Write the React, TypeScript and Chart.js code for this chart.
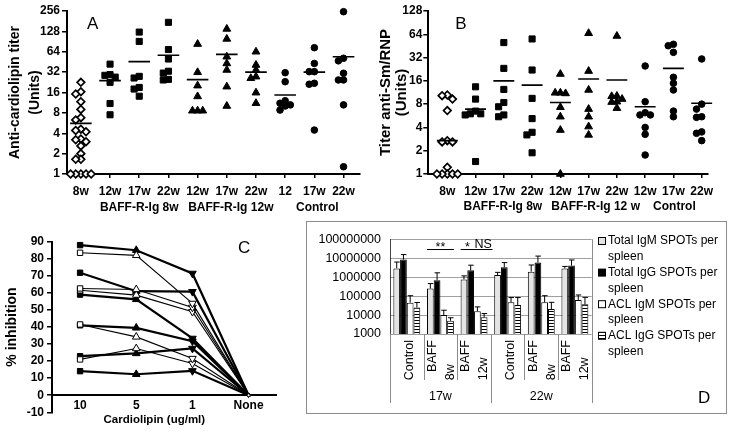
import React, { useEffect, useRef } from 'react';
import { Chart, registerables } from 'chart.js';

Chart.register(...registerables);

const FONT = "'Liberation Sans', Arial, Helvetica, sans-serif";
Chart.defaults.font.family = FONT;
Chart.defaults.color = '#000';

// ===== Panel A: anti-cardiolipin titer =====
const catsA = ['8w', '12w', '17w', '22w', '12w', '17w', '22w', '12', '17w', '22w'];
const groupsA = ['BAFF-R-Ig 8w', 'BAFF-R-Ig 12w', 'Control'];
const ticksA = [1, 2, 4, 8, 16, 32, 64, 128, 256];
const markersA = ['diamond', 'square', 'square', 'square', 'triangle', 'triangle', 'triangle', 'circle', 'circle', 'circle'];
const aPre8w = [22.6, 16.4, 15.2, 11.7, 9.0, 6.8, 6.3, 4.6, 4.4, 4.2, 3.3, 3.2, 3.0, 2.6, 2.0, 1.65, 1.65, 1, 1, 1, 1, 1];
const aB8_12w = [42, 29.4, 28.7, 27, 22.6, 11, 7.5];
const aB8_17w = [125, 91, 27.7, 26.2, 19, 18, 14.1];
const aB8_22w = [174, 69, 50, 33, 31, 25, 24.5];
const aB12_12w = [83, 31.8, 20.2, 14, 8.6, 8.6, 8.6];
const aB12_17w = [139, 99, 54, 43, 34.4, 19.5, 10.1];
const aB12_22w = [64, 40.8, 34.4, 27.4, 26, 15.9, 11.1];
const aCtl_12 = [31.4, 23.1, 12.1, 11.1, 10.5, 10.1, 8.8];
const aCtl_17w = [73.5, 43, 32.5, 32.5, 21.9, 21.2, 4.46];
const aCtl_22w = [250, 51.3, 47, 30.8, 24.5, 24.5, 10.5, 1.28];
const meansA = [5.6, 24, 45.8, 56.8, 24.8, 58.6, 32, 14.7, 32, 54];

// ===== Panel B: anti-Sm/RNP titer =====
const catsB = ['8w', '12w', '17w', '22w', '12w', '17w', '22w', '12w', '17w', '22w'];
const groupsB = ['BAFF-R-Ig 8w', 'BAFF-R-Ig 12 w', 'Control'];
const ticksB = [1, 2, 4, 8, 16, 32, 64, 128];
const markersB = markersA;
const bPre8w = [10.5, 10.3, 9.3, 6.6, 2.7, 2.6, 2.6, 1.22, 1, 1, 1, 1, 1];
const bB8_12w = [13.4, 9.3, 6.5, 6.0, 6.0, 5.8, 1.45];
const bB8_17w = [50, 23.2, 12.4, 8.4, 7.4, 5.8, 5.5];
const bB8_22w = [55.7, 22.1, 9.5, 5.2, 3.46, 3.2, 1.88];
const bB12_12w = [19.6, 11.2, 11.2, 11, 7.3, 5.5, 3.7, 1];
const bB12_17w = [66, 21.4, 12.2, 6.9, 5.5, 4.1, 3.2];
const bB12_22w = [60.8, 10.2, 10.1, 9.3, 8.6, 8.5, 7.1];
const bCtl_12w = [24.9, 8.6, 6.2, 5.8, 5.8, 4.0, 3.26, 1.76];
const bCtl_17w = [47.5, 45.5, 37.4, 17.8, 14.9, 12.2, 6.5, 5.5];
const bCtl_22w = [30.7, 8, 6.9, 5.5, 5.4, 3.5, 3.36, 2.7];
const meansB = [2.7, 6.9, 16, 14.1, 8.4, 16.9, 16.4, 7.4, 23.2, 8.2];

// ===== Panel C: % inhibition =====
const catsC = ['10', '5', '1', 'None'];
const c1 = [88, 85, 71.4, 0];
const c2 = [83.5, 82, 53.8, 0];
const c3 = [71.8, 61, 60.7, 0];
const c4 = [62.6, 62, 51.5, 0];
const c5 = [61.5, 58.7, 49, 0];
const c6 = [59, 56.2, 33.3, 0];
const c7 = [41, 39.5, 31.7, 0];
const c8 = [41.5, 34.2, 21.5, 0];
const c9 = [22.9, 24.5, 27.4, 0];
const c10 = [21, 27.4, 18.6, 0];
const c11 = [14.1, 12.3, 14.3, 0];
const filledC = [true, false, true, false, false, true, true, false, true, false, true];
const titleC = 'Cardiolipin (ug/ml)';

// ===== Panel D: ELISPOT =====
const catsD: (string | string[])[] = ['Control', ['BAFF', '8w'], ['BAFF', '12w'], 'Control', ['BAFF', '8w'], ['BAFF', '12w']];
const periodsD = ['17w', '22w'];
const ticksD = [1000, 10000, 100000, 1000000, 10000000, 100000000];
const igmTotal = [2.9e6, 2.5e5, 7.6e5, 1.3e6, 1.95e6, 2.9e6];
const igmTotalErr = [6.3e6, 4.6e5, 1.17e6, 1.8e6, 4.4e6, 3.7e6];
const iggTotal = [8.5e6, 6.9e5, 2.3e6, 3.3e6, 5.9e6, 4.1e6];
const iggTotalErr = [1.56e7, 1.7e6, 4.3e6, 5.9e6, 1.3e7, 8.1e6];
const aclIgm = [4.5e4, 1e4, 1.6e4, 4.7e4, 4.7e4, 6.3e4];
const aclIgmErr = [1.05e5, 1.8e4, 2.7e4, 8.4e4, 1.05e5, 1.15e5];
const aclIgg = [2.5e4, 5e3, 7.6e3, 3.4e4, 2.1e4, 3.7e4];
const aclIggErr = [4.6e4, 7.2e3, 1.2e4, 8.4e4, 4.7e4, 8.6e4];
const legendD = [
  ['Total IgM SPOTs per', 'spleen'],
  ['Total IgG SPOTs per', 'spleen'],
  ['ACL IgM SPOTs per', 'spleen'],
  ['ACL IgG SPOTs per', 'spleen'],
];
const sigLabels = ['**', '*', 'NS'];
const sigGroup = [1, 2, 2];
const sigFrom = [0, 0, 2];
const sigTo = [3, 1, 3];
const sigLevel = [3e7, 3e7, 3e7];

const MARKERS: Record<string, any> = {
  diamond: { style: 'rectRot', r: 3.8, fill: '#fff', bw: 1.7 },
  square: { style: 'rect', r: 4.3, fill: '#000', bw: 1 },
  triangle: { style: 'triangle', r: 4.5, fill: '#000', bw: 1 },
  circle: { style: 'circle', r: 3.3, fill: '#000', bw: 1 },
};

function swarm(vals: number[], pxPerCat: number, pxPerDbl: number): number[] {
  const step = 5.2;
  const diam = 5.0;
  const order = vals.map((_, i) => i).sort((a, b) => vals[b] - vals[a]);
  const placed: { o: number; l: number }[] = [];
  const out: number[] = new Array(vals.length).fill(0);
  const cands = [0];
  for (let k = 1; k <= 2; k++) cands.push(-k * step, k * step);
  for (const i of order) {
    const l = Math.log2(vals[i]) * pxPerDbl;
    let o = 0;
    let best = -1;
    for (const c of cands) {
      const md = placed.reduce((m, p) => Math.min(m, Math.hypot(p.o - c, p.l - l)), Infinity);
      if (md >= diam) { o = c; best = Infinity; break; }
      if (md > best) { best = md; o = c; }
    }
    placed.push({ o, l });
    out[i] = o / pxPerCat;
  }
  return out;
}

function makeScatter(canvas: HTMLCanvasElement, p: any) {
  const datasets: any[] = [];
  const meanData: any[] = [];
  p.means.forEach((m: number, i: number) => {
    meanData.push({ x: i - 0.37, y: m }, { x: i + 0.37, y: m }, { x: i + 0.5, y: null });
  });
  datasets.push({
    data: meanData, showLine: true, borderColor: '#000', borderWidth: 1.6,
    pointRadius: 0, spanGaps: false, order: 0, clip: false,
  });
  p.groups.forEach((vals: number[], i: number) => {
    const st = MARKERS[p.markers[i]];
    const offs = swarm(vals, p.pxPerCat, p.pxPerDbl);
    datasets.push({
      data: vals.map((v, j) => ({ x: i + offs[j], y: v })),
      pointStyle: st.style, pointRadius: st.r, pointBackgroundColor: st.fill,
      pointBorderColor: '#000', pointBorderWidth: st.bw, showLine: false, order: 1, clip: false,
    });
  });
  const decor = {
    id: 'decor',
    afterDraw(chart: any) {
      const ctx = chart.ctx;
      const xs = chart.scales.x;
      ctx.save();
      ctx.fillStyle = '#000';
      ctx.font = `bold ${p.groupSize}px ${FONT}`;
      ctx.textAlign = 'center';
      ctx.textBaseline = 'middle';
      p.groupLabels.forEach((g: string, i: number) => {
        ctx.fillText(g, xs.getPixelForValue(3 * i + 2) + p.groupShift[i], p.groupY);
      });
      ctx.font = `17px ${FONT}`;
      ctx.textAlign = 'left';
      ctx.fillText(p.letter, chart.chartArea.left + p.letterDX, chart.chartArea.top + p.letterDY);
      ctx.restore();
    },
  };
  return new Chart(canvas, {
    type: 'scatter',
    data: { datasets },
    plugins: [decor],
    options: {
      responsive: false, animation: false, devicePixelRatio: 1, events: [],
      layout: { padding: { left: 0, top: p.padTop, right: p.padRight, bottom: 0 } },
      plugins: { legend: { display: false }, tooltip: { enabled: false } },
      scales: {
        x: {
          type: 'linear', min: p.xMin, max: p.xMax,
          afterBuildTicks: (s: any) => { s.ticks = p.cats.map((_: any, i: number) => ({ value: i })); },
          afterFit: (s: any) => { s.height = p.xHeight; },
          ticks: { callback: (v: any) => p.cats[v], font: { size: 12, weight: 'bold' }, padding: 6, autoSkip: false, maxRotation: 0 },
          grid: { display: true, drawOnChartArea: false, drawTicks: true, tickLength: 4, color: '#000', lineWidth: 1.5 },
          border: { display: true, color: '#000', width: 2 },
        },
        y: {
          type: 'logarithmic', min: 1, max: p.yMax,
          afterBuildTicks: (s: any) => { s.ticks = p.ticks.map((v: number) => ({ value: v })); },
          afterFit: (s: any) => { s.width = p.yWidth; },
          ticks: { callback: (v: any) => String(v), font: { size: 12, weight: 'bold' }, padding: p.yTickPad, autoSkip: false },
          grid: { display: true, drawOnChartArea: false, tickLength: 5, color: '#000', lineWidth: 1.5 },
          border: { display: true, color: '#000', width: 2 },
          title: {
            display: true, text: p.yTitle,
            font: { size: p.titleSize, weight: 'bold', lineHeight: p.titleLH },
            padding: { top: p.titlePad, bottom: 0 },
          },
        },
      },
    },
  } as any);
}

function makeC(canvas: HTMLCanvasElement) {
  const series = [c1, c2, c3, c4, c5, c6, c7, c8, c9, c10, c11];
  const decor = {
    id: 'decorC',
    afterDraw(chart: any) {
      const ctx = chart.ctx;
      const { x, y } = chart.scales;
      ctx.save();
      ctx.fillStyle = '#000';
      ctx.textBaseline = 'middle';
      ctx.textAlign = 'center';
      ctx.font = `bold 11.5px ${FONT}`;
      ctx.fillText(titleC, (x.left + x.right) / 2 - 10, y.getPixelForValue(0) + 24.5);
      ctx.font = `17px ${FONT}`;
      ctx.textAlign = 'left';
      ctx.fillText('C', chart.chartArea.left + 186, chart.chartArea.top + 7);
      ctx.restore();
    },
  };
  return new Chart(canvas, {
    type: 'line',
    data: {
      labels: catsC,
      datasets: series.map((s, k) => ({
        data: s,
        borderColor: '#000',
        borderWidth: filledC[k] ? 2.2 : 1.1,
        pointStyle: ['rect', 'triangle', 'triangle', 'circle'],
        pointRotation: [0, 0, 180, 0],
        pointRadius: [3.8, 4.4, 4.4, 1.5],
        pointBackgroundColor: filledC[k] ? '#000' : '#fff',
        pointBorderColor: '#000',
        pointBorderWidth: 1,
        tension: 0,
        clip: false,
        order: filledC[k] ? 1 : 0,
      })),
    },
    plugins: [decor],
    options: {
      responsive: false, animation: false, devicePixelRatio: 1, events: [],
      layout: { padding: { left: 0, top: 26.7, right: 23.3, bottom: 23.7 } },
      plugins: { legend: { display: false }, tooltip: { enabled: false } },
      scales: {
        x: {
          type: 'category', offset: true, position: { y: 0 },
          grid: { display: false, drawTicks: false },
          border: { display: true, color: '#000', width: 2 },
          ticks: { font: { size: 12, weight: 'bold' }, padding: 3 },
        },
        y: {
          min: -10, max: 90,
          afterFit: (s: any) => { s.width = 52; },
          ticks: { stepSize: 10, font: { size: 12, weight: 'bold' }, padding: 3, autoSkip: false },
          grid: { drawOnChartArea: false, tickLength: 5, color: '#000', lineWidth: 1.5 },
          border: { color: '#000', width: 2 },
          title: { display: true, text: '% inhibition', font: { size: 14, weight: 'bold' }, padding: { top: 4, bottom: 0 } },
        },
      },
    },
  } as any);
}

function makeD(canvas: HTMLCanvasElement) {
  const stripe = document.createElement('canvas');
  stripe.width = 4;
  stripe.height = 3;
  const sc = stripe.getContext('2d')!;
  sc.fillStyle = '#fff';
  sc.fillRect(0, 0, 4, 3);
  sc.fillStyle = '#000';
  sc.fillRect(0, 0, 4, 1);
  const stripePat = canvas.getContext('2d')!.createPattern(stripe, 'repeat');
  const fills: any[] = ['#e4e4e4', '#000', '#fff', stripePat];
  const series = [igmTotal, iggTotal, aclIgm, aclIgg];
  const errs = [igmTotalErr, iggTotalErr, aclIgmErr, aclIggErr];

  const decor = {
    id: 'decorD',
    beforeDraw(chart: any) {
      const ctx = chart.ctx;
      ctx.save();
      ctx.strokeStyle = '#8c8c8c';
      ctx.lineWidth = 1;
      ctx.strokeRect(6.5, 6.5, 420, 192);
      ctx.restore();
    },
    afterDraw(chart: any) {
      const { ctx, chartArea: ca, scales } = chart;
      const x = scales.x;
      const y = scales.y;
      ctx.save();
      ctx.strokeStyle = '#8c8c8c';
      ctx.lineWidth = 1;
      ctx.beginPath();
      ctx.moveTo(Math.round(ca.right) + 0.5, ca.top);
      ctx.lineTo(Math.round(ca.right) + 0.5, ca.bottom);
      ctx.stroke();
      // error bars
      ctx.strokeStyle = '#000';
      ctx.lineWidth = 1;
      chart.data.datasets.forEach((_: any, di: number) => {
        const meta = chart.getDatasetMeta(di);
        meta.data.forEach((bar: any, i: number) => {
          const top = y.getPixelForValue(errs[di][i]);
          ctx.beginPath();
          ctx.moveTo(bar.x, bar.y);
          ctx.lineTo(bar.x, top);
          ctx.moveTo(bar.x - 2.5, top);
          ctx.lineTo(bar.x + 3, top);
          ctx.stroke();
        });
      });
      // significance marks
      ctx.font = `12.5px ${FONT}`;
      ctx.textAlign = 'center';
      ctx.textBaseline = 'bottom';
      ctx.fillStyle = '#000';
      sigLabels.forEach((lab, k) => {
        const b0 = chart.getDatasetMeta(sigFrom[k]).data[sigGroup[k]];
        const b1 = chart.getDatasetMeta(sigTo[k]).data[sigGroup[k]];
        const x0 = b0.x - b0.width / 2;
        const x1 = b1.x + b1.width / 2 + (lab === 'NS' ? 5 : 0);
        const yy = Math.round(y.getPixelForValue(sigLevel[k])) + 0.5;
        ctx.beginPath();
        ctx.moveTo(x0, yy);
        ctx.lineTo(x1, yy);
        ctx.stroke();
        ctx.fillText(lab, (x0 + x1) / 2, yy + (lab === 'NS' ? 1 : 4));
      });
      // category separators and labels
      const n = catsD.length;
      const bounds: number[] = [];
      for (let i = 0; i <= n; i++) {
        if (i === 0) bounds.push(ca.left);
        else if (i === n) bounds.push(ca.right);
        else bounds.push((x.getPixelForValue(i - 1) + x.getPixelForValue(i)) / 2);
      }
      ctx.strokeStyle = '#8c8c8c';
      bounds.forEach((bx, i) => {
        const long = i % 3 === 0;
        const px = Math.round(bx) + 0.5;
        ctx.beginPath();
        ctx.moveTo(px, ca.bottom);
        ctx.lineTo(px, ca.bottom + (long ? 69 : 46));
        ctx.stroke();
      });
      const labTop = ca.bottom + 6;
      const ctlW = ctx.measureText('Control').width;
      ctx.textBaseline = 'middle';
      catsD.forEach((lab, i) => {
        const px = x.getPixelForValue(i);
        if (Array.isArray(lab)) {
          ctx.save();
          ctx.translate(px - 8, labTop);
          ctx.rotate(-Math.PI / 2);
          ctx.textAlign = 'right';
          ctx.fillText(lab[0], 0, 0);
          ctx.restore();
          ctx.save();
          ctx.translate(px + 10, labTop + ctlW);
          ctx.rotate(-Math.PI / 2);
          ctx.textAlign = 'left';
          ctx.fillText(lab[1], 0, 0);
          ctx.restore();
        } else {
          ctx.save();
          ctx.translate(px + 3, labTop);
          ctx.rotate(-Math.PI / 2);
          ctx.textAlign = 'right';
          ctx.fillText(lab, 0, 0);
          ctx.restore();
        }
      });
      ctx.textAlign = 'center';
      periodsD.forEach((pl, k) => {
        ctx.fillText(pl, (bounds[3 * k] + bounds[3 * k + 3]) / 2, ca.bottom + 63);
      });
      // legend
      ctx.font = `12px ${FONT}`;
      ctx.textAlign = 'left';
      legendD.forEach((lines, k) => {
        const ly = 26 + k * 31.6;
        ctx.fillStyle = fills[k];
        ctx.fillRect(298, ly - 3.5, 7, 7);
        ctx.strokeStyle = '#000';
        ctx.strokeRect(298.5, ly - 3.5, 7, 7);
        ctx.fillStyle = '#000';
        lines.forEach((t, j) => ctx.fillText(t, 308, ly + j * 15.8));
      });
      ctx.font = `17px ${FONT}`;
      ctx.fillText('D', 398, 183);
      ctx.restore();
    },
  };

  return new Chart(canvas, {
    type: 'bar',
    data: {
      labels: catsD as any,
      datasets: series.map((s, k) => ({
        label: legendD[k].join(' '),
        data: s,
        backgroundColor: fills[k],
        borderColor: '#000',
        borderWidth: 1,
        categoryPercentage: 0.8,
        barPercentage: 1,
      })),
    },
    plugins: [decor],
    options: {
      responsive: false, animation: false, devicePixelRatio: 1, events: [],
      layout: { padding: { left: 0, top: 24.3, right: 137.3, bottom: 0 } },
      plugins: { legend: { display: false }, tooltip: { enabled: false } },
      scales: {
        x: {
          grid: { display: false, drawTicks: false },
          border: { display: false },
          ticks: { display: false },
          afterFit: (s: any) => { s.height = 102; },
        },
        y: {
          type: 'logarithmic', min: 1000, max: 1e8,
          afterBuildTicks: (s: any) => { s.ticks = ticksD.map((v) => ({ value: v })); },
          afterFit: (s: any) => { s.width = 90; },
          ticks: { callback: (v: any) => String(v), font: { size: 12.5 }, padding: 9, autoSkip: false },
          grid: { color: '#a0a0a0', lineWidth: 1, drawTicks: false },
          border: { color: '#444', width: 1 },
        },
      },
    },
  } as any);
}

function ChartCanvas({ make, left, top, width, height }: any) {
  const ref = useRef<HTMLCanvasElement>(null);
  useEffect(() => {
    const chart = make(ref.current!);
    return () => chart.destroy();
  }, []);
  return (
    <canvas
      ref={ref}
      width={width}
      height={height}
      style={{ position: 'absolute', left, top, width, height }}
    />
  );
}

const panelA = {
  cats: catsA, groupLabels: groupsA, ticks: ticksA, markers: markersA,
  groups: [aPre8w, aB8_12w, aB8_17w, aB8_22w, aB12_12w, aB12_17w, aB12_22w, aCtl_12, aCtl_17w, aCtl_22w],
  means: meansA, yMax: 256, xMin: -0.475, xMax: 9.54, pxPerCat: 29.44, pxPerDbl: 20.375,
  yTitle: ['Anti-cardiolipin titer', '(Units)'], titleSize: 14, titleLH: 1.43, titlePad: 5,
  yWidth: 67, yTickPad: 2, padTop: 11, padRight: 3, xHeight: 41, groupY: 208,
  groupSize: 12, groupShift: [0, 4, 3],
  letter: 'A', letterDX: 20, letterDY: 13,
};

const panelB = {
  cats: catsB, groupLabels: groupsB, ticks: ticksB, markers: markersB,
  groups: [bPre8w, bB8_12w, bB8_17w, bB8_22w, bB12_12w, bB12_17w, bB12_22w, bCtl_12w, bCtl_17w, bCtl_22w],
  means: meansB, yMax: 128, xMin: -0.672, xMax: 9.223, pxPerCat: 28.27, pxPerDbl: 23.29,
  yTitle: ['Titer anti-Sm/RNP', '(Units)'], titleSize: 15, titleLH: 1.05, titlePad: 13,
  yWidth: 63.3, yTickPad: 1, padTop: 11, padRight: 21, xHeight: 41, groupY: 207,
  groupSize: 12, groupShift: [-1, 7, 1],
  letter: 'B', letterDX: 27, letterDY: 13,
};

export default function App() {
  return (
    <div style={{ position: 'absolute', left: 0, top: 0, width: 729, height: 436, background: '#fff', overflow: 'hidden' }}>
      <ChartCanvas make={(c: HTMLCanvasElement) => makeScatter(c, panelA)} left={0} top={0} width={365} height={215} />
      <ChartCanvas make={(c: HTMLCanvasElement) => makeScatter(c, panelB)} left={365} top={0} width={364} height={215} />
      <ChartCanvas make={makeC} left={0} top={215} width={300} height={221} />
      <ChartCanvas make={makeD} left={300} top={215} width={429} height={221} />
    </div>
  );
}
